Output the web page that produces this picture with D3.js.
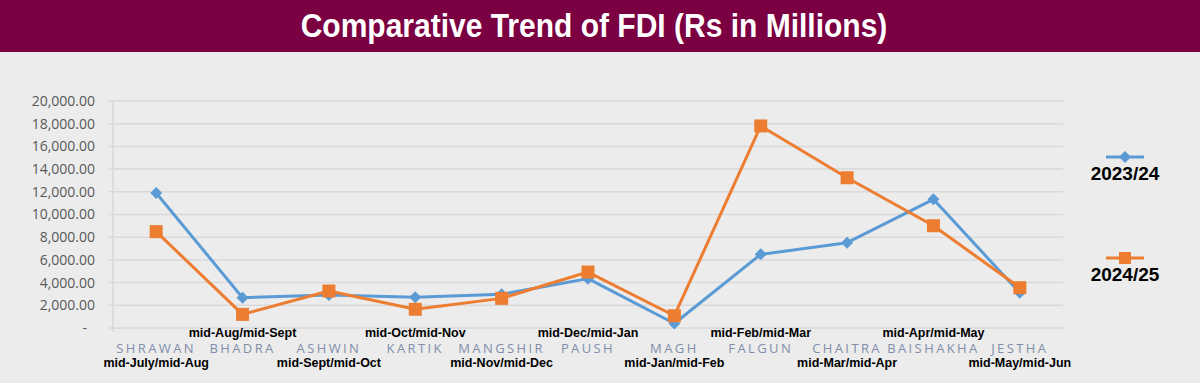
<!DOCTYPE html>
<html><head><meta charset="utf-8">
<script src="https://cdn.jsdelivr.net/npm/d3@7"></script>
<style>
html,body{margin:0;padding:0;background:#ececec;}
svg{display:block;}
</style></head>
<body>
<svg id="chart" width="1200" height="383"></svg>
<script>
const categories = ["SHRAWAN","BHADRA","ASHWIN","KARTIK","MANGSHIR","PAUSH","MAGH","FALGUN","CHAITRA","BAISHAKHA","JESTHA"];
const periods = ["mid-July/mid-Aug","mid-Aug/mid-Sept","mid-Sept/mid-Oct","mid-Oct/mid-Nov","mid-Nov/mid-Dec","mid-Dec/mid-Jan","mid-Jan/mid-Feb","mid-Feb/mid-Mar","mid-Mar/mid-Apr","mid-Apr/mid-May","mid-May/mid-Jun"];
const series2023 = [11900, 2670, 2900, 2700, 2970, 4350, 400, 6490, 7520, 11340, 3100];
const series2024 = [8490, 1200, 3260, 1650, 2610, 4930, 1080, 17800, 13240, 9010, 3550];
const yTicks = [0,2000,4000,6000,8000,10000,12000,14000,16000,18000,20000];
const seriesNames = ["2023/24","2024/25"];
const colors = ["#5b9bd5","#ed7d31"];

const svg = d3.select("#chart");
svg.append("rect").attr("width",1200).attr("height",383).attr("fill","#ececec");
svg.append("rect").attr("width",1200).attr("height",52).attr("fill","#7b0042");
svg.append("text").attr("x",594).attr("y",37).attr("text-anchor","middle")
  .attr("fill","#fff").attr("font-family","Liberation Sans, Arial, sans-serif")
  .attr("font-weight","bold").attr("font-size",30)
  .attr("transform","translate(594,0) scale(1,1.08) translate(-594,-2.6)")
  .text("Comparative Trend of FDI (Rs in Millions)");

const x = d3.scaleBand().domain(categories).range([113,1063]);
const y = d3.scaleLinear().domain([0,20000]).range([328,101]);

// gridlines
svg.append("g").selectAll("line").data(yTicks).join("line")
  .attr("x1",109).attr("x2",1063).attr("y1",d=>y(d)).attr("y2",d=>y(d))
  .attr("stroke","#d9d9d9").attr("stroke-width",1.5);
svg.append("line").attr("x1",113).attr("x2",113).attr("y1",101).attr("y2",332)
  .attr("stroke","#d9d9d9").attr("stroke-width",1.5);

// y axis labels
const yAxis = d3.axisLeft(y).tickValues(yTicks).tickSize(0).tickPadding(0)
  .tickFormat(d=> d===0 ? "-" : d3.format(",.2f")(d));
const ya = svg.append("g").attr("transform","translate(95,0)").call(yAxis);
ya.select(".domain").remove();
ya.selectAll("text").attr("fill","#595959").attr("font-size",14)
  .attr("font-family","Open Sans, Liberation Sans, sans-serif");
ya.selectAll(".tick").filter(d=>d===0).select("text").attr("dx",-8);

// category labels
const cx = d => x(d) + x.bandwidth()/2;
svg.append("g").selectAll("text").data(categories).join("text")
  .attr("x",cx).attr("y",353).attr("text-anchor","middle")
  .attr("fill","#7f8eab").attr("font-size",13).attr("letter-spacing","2.4px")
  .attr("font-family","Open Sans, Liberation Sans, sans-serif").text(d=>d);
svg.append("g").selectAll("text").data(periods).join("text")
  .attr("x",(d,i)=>cx(categories[i])).attr("y",(d,i)=> i%2 ? 337 : 367)
  .attr("text-anchor","middle").attr("fill","#000").attr("font-weight","bold")
  .attr("font-size",12.5).attr("font-family","Liberation Sans, Arial, sans-serif").text(d=>d);

// lines
const allSeries = [series2023, series2024];
const line = d3.line().x((d,i)=>cx(categories[i])).y(d=>y(d));
allSeries.forEach((s,k)=>{
  svg.append("path").datum(s).attr("d",line).attr("fill","none")
    .attr("stroke",colors[k]).attr("stroke-width",3).attr("stroke-linejoin","round");
});
// markers
const diamondPath = "M0,-6L6,0L0,6L-6,0Z";
svg.append("g").selectAll("path").data(series2023).join("path")
  .attr("d",diamondPath).attr("transform",(d,i)=>`translate(${cx(categories[i])},${y(d)})`)
  .attr("fill",colors[0]);
svg.append("g").selectAll("rect").data(series2024).join("rect")
  .attr("x",(d,i)=>cx(categories[i])-6.5).attr("y",d=>y(d)-6.5)
  .attr("width",13).attr("height",13).attr("fill",colors[1]);

// legend
const legY = [157, 258];
seriesNames.forEach((n,k)=>{
  const g = svg.append("g");
  g.append("line").attr("x1",1106).attr("x2",1144).attr("y1",legY[k]).attr("y2",legY[k])
    .attr("stroke",colors[k]).attr("stroke-width",3);
  if(k===0){
    g.append("path").attr("d",diamondPath).attr("transform",`translate(1125,${legY[k]})`).attr("fill",colors[0]);
  } else {
    g.append("rect").attr("x",1125-6).attr("y",legY[k]-6).attr("width",12).attr("height",12).attr("fill",colors[1]);
  }
  g.append("text").attr("x",1125).attr("y",legY[k]+23).attr("text-anchor","middle")
    .attr("font-weight","bold").attr("font-size",19).attr("fill","#000")
    .attr("font-family","Liberation Sans, Arial, sans-serif").text(n);
});
</script>
</body></html>
